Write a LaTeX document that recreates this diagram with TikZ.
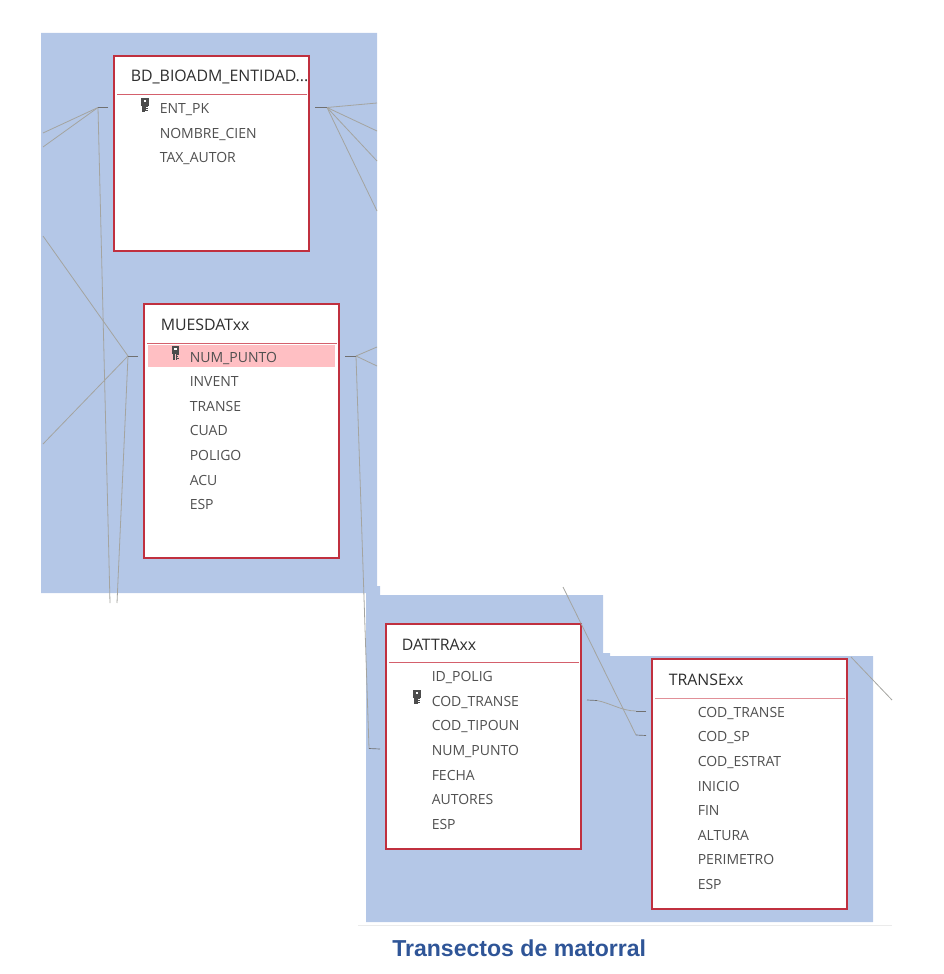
\documentclass[tikz,border=0pt]{standalone}
\usepackage{fontspec}
\setmainfont{Open Sans}
\newfontfamily\captionfont{Liberation Sans}
\definecolor{panel}{HTML}{B4C7E7}
\definecolor{frameR}{HTML}{C0303F}
\definecolor{ruleR}{HTML}{D4606C}
\definecolor{hilite}{HTML}{FFBFC3}
\definecolor{fieldtxt}{HTML}{505050}
\definecolor{titletxt}{HTML}{2E2E2E}
\definecolor{conn}{HTML}{A4A4A0}
\definecolor{stubc}{HTML}{707070}
\definecolor{capt}{HTML}{2F5597}
\tikzset{
  x=0.75pt,y=-0.75pt,
  tablebox/.style={draw=frameR,fill=white,line width=0.95pt,minimum width=146.25pt,inner sep=0pt,outer sep=0pt},
  titlerule/.style={draw=ruleR,line width=0.6pt},
  fieldtext/.style={anchor=base west,inner sep=0pt,font=\fontsize{10.5}{12}\selectfont,text=fieldtxt},
  tabletitle/.style={anchor=base west,inner sep=0pt,font=\fontsize{11.9}{13}\selectfont,text=titletxt},
  link/.style={draw=conn,line width=0.6pt},
  stub/.style={draw=stubc,line width=0.5pt},
  keyicon/.pic={
    \fill[fill=black!70] (-4,-7) rectangle (3.5,1);
    \fill[white] (-1.4,-5) rectangle (1,-2.8);
    \fill[fill=black!70] (-3,1) rectangle (-0.5,7);
    \draw[black!70,line width=0.5pt] (0.5,1.5) -- (3.2,1.5) (0.5,3.5) -- (2.8,3.5) (0.5,5.5) -- (3.2,5.5) (0.8,1) -- (0.8,6.5);
  }
}
\begin{document}
\begin{tikzpicture}
\useasboundingbox (0,0) rectangle (943,974);
% panel
\fill[panel] (41,33) -- (377,33) -- (377,586) -- (380,586) -- (380,595) -- (603,595) -- (603,653) -- (610,653) -- (610,656) -- (873,656) -- (873,922) -- (366,922) -- (366,593) -- (41,593) -- cycle;
\draw[black!8,line width=0.6pt] (358,925) -- (892,925);
% tables
\node[tablebox,minimum height=146.25pt] (bd) at (211.5,153.5) {};
\node[tablebox,minimum height=190.5pt] (mues) at (241.5,431) {};
\node[tablebox,minimum height=168.75pt] (dat) at (483.5,736.5) {};
\node[tablebox,minimum height=187.5pt] (tra) at (749.5,784) {};
\draw[titlerule] (117,94) -- (307,94);
\draw[titlerule] (147,343) -- (337,343);
\draw[titlerule] (389,662) -- (579,662);
\draw[draw=ruleR!70,line width=0.6pt] (655,698) -- (845,698);
\node[fill=hilite,minimum width=140.25pt,minimum height=16.5pt,inner sep=0pt] (hl) at (241.5,356) {};
% titles
\node[tabletitle] (tbd) at (130.5,81) {BD\_BIOADM\_ENTIDAD...};
\node[tabletitle] (tmu) at (160.5,330) {MUESDATxx};
\node[tabletitle] (tda) at (401.5,650) {DATTRAxx};
\node[tabletitle] (ttr) at (668.5,685) {TRANSExx};
% fields
\node[fieldtext] (b1) at (159.5,113.5) {ENT\_PK};
\node[fieldtext] (b2) at (159.5,138) {NOMBRE\_CIEN};
\node[fieldtext] (b3) at (159.5,162.5) {TAX\_AUTOR};
\node[fieldtext] (m1) at (189.5,362) {NUM\_PUNTO};
\node[fieldtext] (m2) at (189.5,386.5) {INVENT};
\node[fieldtext] (m3) at (189.5,411) {TRANSE};
\node[fieldtext] (m4) at (189.5,435.5) {CUAD};
\node[fieldtext] (m5) at (189.5,460) {POLIGO};
\node[fieldtext] (m6) at (189.5,485) {ACU};
\node[fieldtext] (m7) at (189.5,509.5) {ESP};
\node[fieldtext] (d1) at (431.5,681) {ID\_POLIG};
\node[fieldtext] (d2) at (431.5,706) {COD\_TRANSE};
\node[fieldtext] (d3) at (431.5,730.5) {COD\_TIPOUN};
\node[fieldtext] (d4) at (431.5,755) {NUM\_PUNTO};
\node[fieldtext] (d5) at (431.5,780) {FECHA};
\node[fieldtext] (d6) at (431.5,804.5) {AUTORES};
\node[fieldtext] (d7) at (431.5,829) {ESP};
\node[fieldtext] (t1) at (697.5,717) {COD\_TRANSE};
\node[fieldtext] (t2) at (697.5,741.5) {COD\_SP};
\node[fieldtext] (t3) at (697.5,766) {COD\_ESTRAT};
\node[fieldtext] (t4) at (697.5,791) {INICIO};
\node[fieldtext] (t5) at (697.5,815.5) {FIN};
\node[fieldtext] (t6) at (697.5,840) {ALTURA};
\node[fieldtext] (t7) at (697.5,864.5) {PERIMETRO};
\node[fieldtext] (t8) at (697.5,889) {ESP};
% keys
\pic at (145,104.5) {keyicon};
\pic at (175.5,353) {keyicon};
\pic at (417,697) {keyicon};
% connector coordinates
\coordinate (bdL) at (108,107.5);
\coordinate (bdLk) at (98,107.5);
\coordinate (bdR) at (315,107.5);
\coordinate (bdRk) at (327,107.5);
\coordinate (muL) at (138,356);
\coordinate (muLk) at (128,356);
\coordinate (muR) at (345,356);
\coordinate (muRk) at (356,356);
\coordinate (daN) at (380,749);
\coordinate (daNk) at (369,748.5);
\coordinate (daR) at (587,700);
\coordinate (daRk) at (597,700.5);
\coordinate (trA) at (646,711);
\coordinate (trAk) at (636,711);
\coordinate (trB) at (646,735.5);
\coordinate (trBk) at (636,735);
\coordinate (f1) at (43,133);
\coordinate (f2) at (43,147);
\coordinate (f3) at (110,603);
\coordinate (f4) at (43,236);
\coordinate (f5) at (43,444);
\coordinate (f6) at (117,603);
\coordinate (f7) at (377,103);
\coordinate (f8) at (377,131);
\coordinate (f9) at (377,161);
\coordinate (f10) at (377,211);
\coordinate (f11) at (377,347);
\coordinate (f12) at (377,366);
\coordinate (f13) at (563,587);
\coordinate (f14) at (851,657);
\coordinate (f15) at (892,700);
% links
\foreach \e in {f1,f2,f3} \draw[link] (bdLk) -- (\e);
\foreach \e in {f7,f8,f9,f10} \draw[link] (bdRk) -- (\e);
\foreach \e in {f4,f5,f6} \draw[link] (muLk) -- (\e);
\foreach \e in {f11,f12,daNk} \draw[link] (muRk) -- (\e);
\draw[link] (daRk) .. controls (610,703) and (622,711) .. (trAk);
\draw[link] (f13) -- (trBk);
\draw[link] (f14) -- (f15);
% stubs
\draw[stub] (bdL) -- (bdLk);
\draw[stub] (bdR) -- (bdRk);
\draw[stub] (muL) -- (muLk);
\draw[stub] (muR) -- (muRk);
\draw[stub] (daN) -- (daNk);
\draw[stub] (daR) -- (daRk);
\draw[stub] (trA) -- (trAk);
\draw[stub] (trB) -- (trBk);
% caption
\node[anchor=base west,inner sep=0pt,font=\captionfont\bfseries\fontsize{17.3}{20}\selectfont,text=capt] (cap) at (392,956) {Transectos de matorral};
\end{tikzpicture}
\end{document}
